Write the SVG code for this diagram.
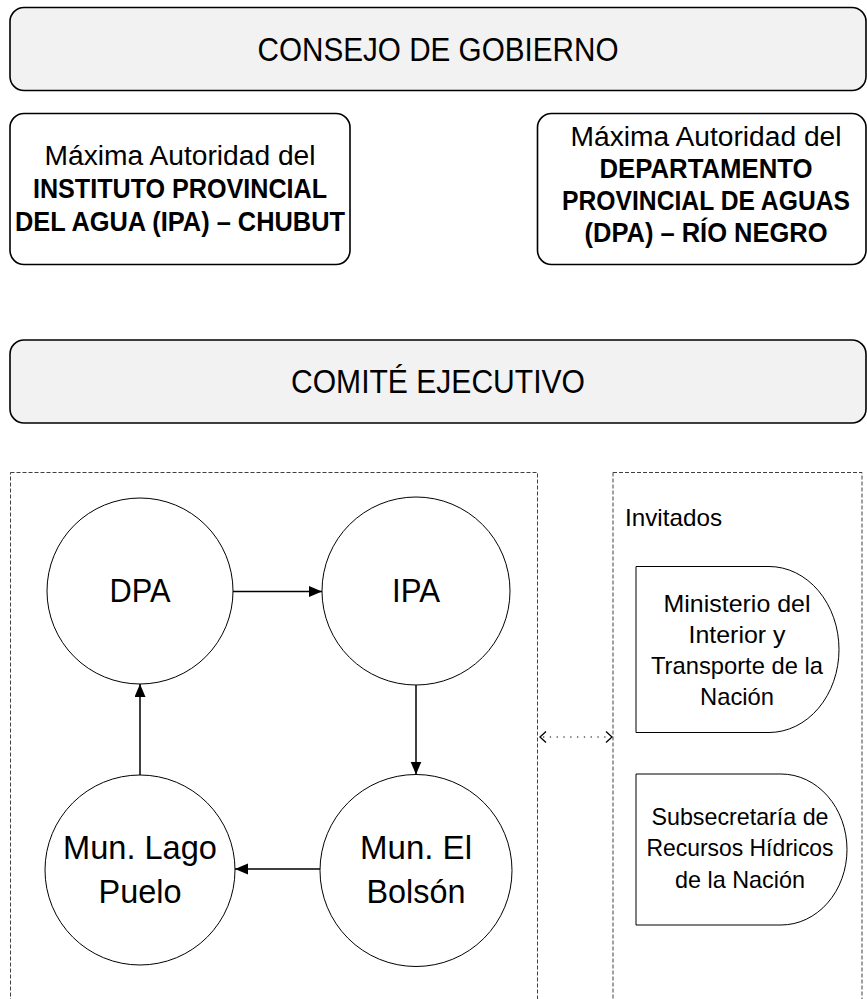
<svg xmlns="http://www.w3.org/2000/svg" width="867" height="999" viewBox="0 0 867 999">
<style>
  text { font-family: "Liberation Sans", Arial, sans-serif; fill: #000; text-anchor: middle; }
  .h1 { font-size: 33.3px; }
  .bx { font-size: 27px; }
  .b { font-weight: bold; }
  .cn { font-size: 32.4px; }
  .sm { font-size: 23.4px; }
  .head { fill: #f2f2f2; stroke: #000; stroke-width: 1.6; }
  .box { fill: #fff; stroke: #000; stroke-width: 1.6; }
  .cont { fill: none; stroke: #404040; stroke-width: 1; stroke-dasharray: 4 2; }
  .circ { fill: #fff; stroke: #000; stroke-width: 1; }
  .inv { fill: #fff; stroke: #000; stroke-width: 1; }
  .arr { fill: none; stroke: #000; stroke-width: 1.5; marker-end: url(#ah); }
  .dot { fill: none; stroke: #000; stroke-width: 1.2; stroke-dasharray: 1.3 5.5; }
  .chev { fill: none; stroke: #000; stroke-width: 1.3; }
</style>
<defs>
  <marker id="ah" markerUnits="userSpaceOnUse" markerWidth="14" markerHeight="12" refX="13" refY="5.5" orient="auto">
    <path d="M0,0 L13,5.5 L0,11 Z" fill="#000"/>
  </marker>
</defs>

<g id="consejo">
  <rect class="head" x="10" y="7.5" width="856" height="83" rx="14"/>
  <text class="h1" x="438" y="61" textLength="361" lengthAdjust="spacingAndGlyphs">CONSEJO DE GOBIERNO</text>
</g>

<g id="ipa-chubut">
  <rect class="box" x="10" y="113.5" width="340" height="151" rx="14"/>
  <text class="bx" x="180" y="165" textLength="271" lengthAdjust="spacingAndGlyphs">Máxima Autoridad del</text>
  <text class="bx b" x="180" y="198" textLength="294" lengthAdjust="spacingAndGlyphs">INSTITUTO PROVINCIAL</text>
  <text class="bx b" x="180" y="231" textLength="330" lengthAdjust="spacingAndGlyphs">DEL AGUA (IPA) – CHUBUT</text>
</g>

<g id="dpa-rionegro">
  <rect class="box" x="537.5" y="113.5" width="328.5" height="151" rx="14"/>
  <text class="bx" x="706" y="146" textLength="271" lengthAdjust="spacingAndGlyphs">Máxima Autoridad del</text>
  <text class="bx b" x="706" y="178" textLength="213" lengthAdjust="spacingAndGlyphs">DEPARTAMENTO</text>
  <text class="bx b" x="706" y="210" textLength="288" lengthAdjust="spacingAndGlyphs">PROVINCIAL DE AGUAS</text>
  <text class="bx b" x="706" y="242" textLength="243" lengthAdjust="spacingAndGlyphs">(DPA) – RÍO NEGRO</text>
</g>

<g id="comite">
  <rect class="head" x="10" y="340" width="856" height="83" rx="14"/>
  <text class="h1" x="438" y="393" textLength="294" lengthAdjust="spacingAndGlyphs">COMITÉ EJECUTIVO</text>
</g>

<g id="miembros">
  <rect class="cont" x="10.5" y="472.5" width="527" height="560"/>
</g>

<g id="invitados">
  <rect class="cont" x="613" y="472.5" width="249" height="560"/>
  <text class="sm" x="625" y="526" style="text-anchor:start" textLength="97" lengthAdjust="spacingAndGlyphs">Invitados</text>
</g>

<g id="dpa">
  <circle class="circ" cx="140" cy="591" r="93"/>
  <text class="cn" x="140" y="602" textLength="61" lengthAdjust="spacingAndGlyphs">DPA</text>
</g>

<g id="ipa">
  <circle class="circ" cx="416" cy="591" r="94"/>
  <text class="cn" x="416" y="602" textLength="48" lengthAdjust="spacingAndGlyphs">IPA</text>
</g>

<g id="mun-el-bolson">
  <circle class="circ" cx="416" cy="870.5" r="96"/>
  <text class="cn" x="416" y="859" textLength="112" lengthAdjust="spacingAndGlyphs">Mun. El</text>
  <text class="cn" x="416" y="903" textLength="99" lengthAdjust="spacingAndGlyphs">Bolsón</text>
</g>

<g id="mun-lago-puelo">
  <circle class="circ" cx="140" cy="870" r="95"/>
  <text class="cn" x="140" y="859" textLength="154" lengthAdjust="spacingAndGlyphs">Mun. Lago</text>
  <text class="cn" x="140" y="903" textLength="83" lengthAdjust="spacingAndGlyphs">Puelo</text>
</g>

<g id="ministerio">
  <path class="inv" d="M636,566.5 H769 A70,83 0 0 1 769,732.5 H636 Z"/>
  <text class="sm" x="737" y="612" textLength="147" lengthAdjust="spacingAndGlyphs">Ministerio del</text>
  <text class="sm" x="737" y="643" textLength="97" lengthAdjust="spacingAndGlyphs">Interior y</text>
  <text class="sm" x="737" y="674" textLength="172" lengthAdjust="spacingAndGlyphs">Transporte de la</text>
  <text class="sm" x="737" y="705" textLength="74" lengthAdjust="spacingAndGlyphs">Nación</text>
</g>

<g id="subsecretaria">
  <path class="inv" d="M636,774 H781 A66,75.5 0 0 1 781,925 H636 Z"/>
  <text class="sm" x="740" y="825" textLength="177" lengthAdjust="spacingAndGlyphs">Subsecretaría de</text>
  <text class="sm" x="740" y="856" textLength="187" lengthAdjust="spacingAndGlyphs">Recursos Hídricos</text>
  <text class="sm" x="740" y="888" textLength="130" lengthAdjust="spacingAndGlyphs">de la Nación</text>
</g>

<g id="connectors">
  <line class="arr" x1="233" y1="591.5" x2="322" y2="591.5"/>
  <line class="arr" x1="416" y1="685" x2="416" y2="774.5"/>
  <line class="arr" x1="320" y1="869" x2="235" y2="869"/>
  <line class="arr" x1="140" y1="775" x2="140" y2="684"/>
  <line class="dot" x1="543" y1="737" x2="609" y2="737"/>
  <polyline class="chev" points="546,731.5 540,737 546,742.5"/>
  <polyline class="chev" points="606,731.5 612,737 606,742.5"/>
</g>
</svg>
